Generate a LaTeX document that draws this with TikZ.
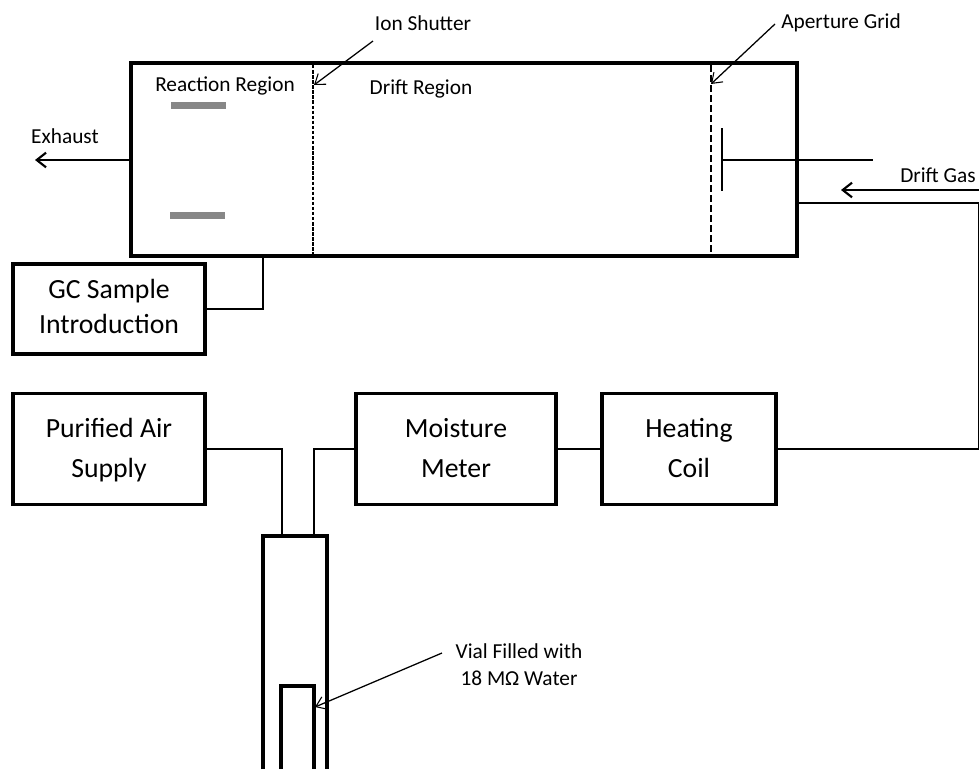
\documentclass[tikz,border=0pt]{standalone}
\usepackage{fontspec}
\setmainfont{Carlito}
\usetikzlibrary{arrows.meta,calc}

\begin{document}
\begin{tikzpicture}[>=stealth,x=0.75pt,y=-0.75pt]
			\tikzstyle{block}=[draw,line width=2.3pt,inner sep=0pt,minimum width=144pt,align=center,font=\fontsize{20.8}{30}\selectfont]
			\tikzstyle{pipe}=[line width=1.8pt]
			\tikzstyle{pointer}=[line width=0.95pt,-{Straight Barb[length=7pt,width=10pt,line width=0.8pt]}]
			\tikzstyle{flow}=[line width=1.8pt,-{Straight Barb[length=7pt,width=11pt,line width=1.6pt]}]
			\tikzstyle{grid}=[line width=0.9pt]
			\tikzstyle{plate}=[fill=black!47,draw=none,inner sep=0pt,minimum width=41pt,minimum height=5pt]
			\tikzstyle{tag}=[inner sep=0pt,align=center,font=\fontsize{16}{20}\selectfont]

			\useasboundingbox (0,0) rectangle (979,769);

			\node (tube) [draw,line width=2.3pt,inner sep=0pt,minimum width=499.5pt,minimum height=144.75pt] at (464,159.5) {};

			\node (gc) [block,minimum height=67.5pt,font=\fontsize{20.8}{26}\selectfont] at (109,309) {\strut GC Sample\\\strut Introduction};
			\node (air) [block,minimum height=83.25pt] at (109,449) {\strut Purified Air\\\strut Supply};
			\node (meter) [block,minimum width=150pt,minimum height=83.25pt] at (456,449) {\strut Moisture\\\strut Meter};
			\node (coil) [block,minimum width=130.5pt,minimum height=83.25pt] at (689,449) {\strut Heating\\\strut Coil};

			\node (exhaust) [tag] at (65,136) {Exhaust};
			\node (reaction) [tag] at (225,86) {Reaction Region};
			\node (drift) [tag] at (421,89) {Drift Region};
			\node (shutter) [tag] at (423,23) {Ion Shutter};
			\node (aperture) [tag,anchor=west] at (781,23) {Aperture Grid};
			\node (driftgas) [tag] at (938,175) {Drift Gas};
			\node (vialtag) [tag] at (519,666.5) {\strut Vial Filled with\\\strut 18 MΩ Water};

			\node (plate1) [plate] at (198.5,105.5) {};
			\node (plate2) [plate] at (197.5,215.5) {};

			\coordinate (exhaustend) at (35,160);
			\draw [flow] (tube.west |- exhaustend) -- (exhaustend);

			\coordinate (gasstart) at (979,190);
			\coordinate (gasend) at (841,190);
			\draw [flow] (gasstart) -- (gasend);

			\draw [pipe] (gc.east) -| (263,256);
			\draw [pipe] (coil.east) -| (979,203) -- (tube.east |- 0,203);
			\draw [pipe] (meter.east) -- (coil.west);

			\draw [grid,dash pattern=on 2.6pt off 1.2pt] (313,65) -- (313,254);
			\draw [grid,dash pattern=on 5pt off 2.5pt] (711,65) -- (711,254);

			\draw [pipe] (722,128) -- (722,191);
			\draw [pipe] (722,160) -- (873,160);

			\draw [line width=2.3pt] (263,769) -- (263,536) -- (327,536) -- (327,769);
			\draw [line width=2.3pt] (281,769) -- (281,686) -- (314,686) -- (314,769);
			\draw [pipe] (air.east) -| (282,536);
			\draw [pipe] (meter.west) -| (314,536);

			\draw [pointer] (373,41) -- (314,85);
			\draw [pointer] (775,24) -- (711,84);
			\draw [pointer] (442,653) -- (315,707);
		\end{tikzpicture}
\end{document}
